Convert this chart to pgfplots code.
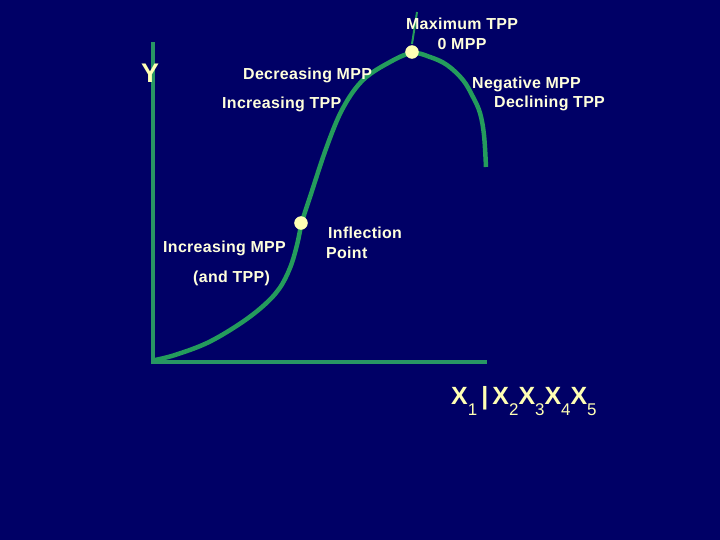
\documentclass[border=0pt]{standalone}
\usepackage{fontspec}
\setmainfont[LetterSpace=2]{Liberation Sans}
\usepackage{pgfplots}
\pgfplotsset{compat=1.18}
\definecolor{bgblue}{RGB}{0,0,102}
\definecolor{curvegreen}{RGB}{36,156,92}
\definecolor{axisgreen}{RGB}{40,150,100}
\definecolor{cream}{RGB}{255,255,220}
\definecolor{paleyellow}{RGB}{255,255,180}
\newcommand{\sub}[1]{\raisebox{-0.45em}{\mdseries\fontsize{17}{17}\selectfont #1}}

\begin{document}
\begin{tikzpicture}
\fill[bgblue] (0,0) rectangle (720bp,540bp);
\begin{axis}[
  at={(0,0)}, anchor=south west,
  scale only axis, width=720bp, height=540bp,
  xmin=0, xmax=720, ymin=0, ymax=540,
  y dir=reverse,
  hide axis, clip=false,
]
% axes
\addplot[axisgreen, line width=3.5pt] coordinates {(153,42) (153,362) (487,362)};
% total product curve
\addplot[curvegreen, line width=4.5pt, smooth, tension=0.6] coordinates {
  (155,360) (175,355) (207,343) (238,325) (262,307) (279,289)
  (290,268) (297,245) (302,222) (310,197) (327,146) (343,108)
  (363,80) (390,62) (412,53) (430,57) (447,65) (463,80)
  (473,97) (480,113) (484,135) (486,167)
};
% pointer to maximum
\addplot[curvegreen, line width=2pt] coordinates {(417,12) (412,44)};
% inflection point and maximum
\addplot[only marks, mark=*, mark size=6.5pt, fill=paleyellow, draw=paleyellow]
  coordinates {(301,223) (412,52)};

\begin{scope}[every node/.style={text=cream, font=\bfseries\fontsize{16}{16}\selectfont, inner sep=0pt}]
\node at (axis cs:462,24) {Maximum TPP};
\node at (axis cs:462,44) {0 MPP};
\node[anchor=west] at (axis cs:243,75) {Decreasing MPP};
\node[anchor=west] at (axis cs:222,104) {Increasing TPP};
\node[anchor=west] at (axis cs:472,84) {Negative MPP};
\node[anchor=west] at (axis cs:494,103) {Declining TPP};
\node[anchor=west] at (axis cs:163,248) {Increasing MPP};
\node[anchor=west] at (axis cs:193,278) {(and TPP)};
\node[anchor=west] at (axis cs:328,233) {Inflection};
\node[anchor=west] at (axis cs:326,253) {Point};
\end{scope}
\node[text=paleyellow, font=\bfseries\fontsize{27}{27}\selectfont] at (axis cs:150,73) {Y};
\node[text=paleyellow, font=\bfseries\fontsize{25}{25}\selectfont\addfontfeature{LetterSpace=0}, anchor=base west, inner sep=0pt]
  at (axis cs:451,404) {X\sub{1}\,|\,X\sub{2}X\sub{3}X\sub{4}X\sub{5}};
\end{axis}
\end{tikzpicture}
\end{document}
